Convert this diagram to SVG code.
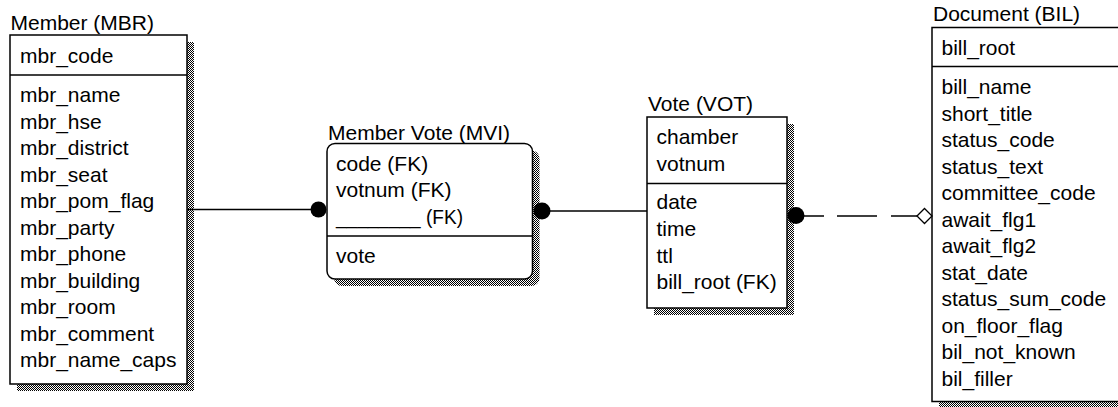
<svg xmlns="http://www.w3.org/2000/svg" width="1118" height="407" viewBox="0 0 1118 407">
<style>
text{font-family:"Liberation Sans",Arial,sans-serif;font-size:21px;fill:#000}
.box{fill:#fff;stroke:#000;stroke-width:1.5}
.sep{stroke:#000;stroke-width:1.5;fill:none}
.shadow{fill:url(#dither)}
.conn{stroke:#000;stroke-width:1.5;fill:none}
.dot{fill:#000;stroke:none}
.dia{fill:#fff;stroke:#000;stroke-width:1.3}
</style>
<defs>
<pattern id="dither" width="2" height="2" patternUnits="userSpaceOnUse">
<rect width="2" height="2" fill="#fff"/>
<rect width="1" height="1" fill="#000"/>
<rect x="1" y="1" width="1" height="1" fill="#000"/>
</pattern>
</defs>
<rect width="1118" height="407" fill="#fff"/>

<g id="member">
<text x="10.5" y="30">Member (MBR)</text>
<rect class="shadow" x="17" y="42" width="177" height="349"/>
<rect class="box" x="10" y="35" width="177" height="349"/>
<line class="sep" x1="10" y1="75" x2="187" y2="75"/>
<text x="20" y="63">mbr_code</text>
<text x="20" y="102">mbr_name</text>
<text x="20" y="128.5">mbr_hse</text>
<text x="20" y="155">mbr_district</text>
<text x="20" y="181.5">mbr_seat</text>
<text x="20" y="208">mbr_pom_flag</text>
<text x="20" y="234.5">mbr_party</text>
<text x="20" y="261">mbr_phone</text>
<text x="20" y="287.5">mbr_building</text>
<text x="20" y="314">mbr_room</text>
<text x="20" y="340.5">mbr_comment</text>
<text x="20" y="367">mbr_name_caps</text>
</g>

<g id="member-vote">
<text x="328" y="139.5">Member Vote (MVI)</text>
<rect class="shadow" x="334" y="150.5" width="205.5" height="135.5" rx="8"/>
<rect class="box" x="327" y="143.5" width="205.5" height="135.5" rx="8"/>
<line class="sep" x1="327" y1="236" x2="532.5" y2="236"/>
<text x="336" y="170.5">code (FK)</text>
<text x="336" y="197">votnum (FK)</text>
<text x="336" y="223.5" textLength="127" lengthAdjust="spacingAndGlyphs">________ (FK)</text>
<text x="336" y="263">vote</text>
</g>

<g id="vote">
<text x="648" y="110.5">Vote (VOT)</text>
<rect class="shadow" x="654" y="124" width="140" height="191"/>
<rect class="box" x="647" y="117" width="140" height="191"/>
<line class="sep" x1="647" y1="183.5" x2="787" y2="183.5"/>
<text x="656.5" y="144">chamber</text>
<text x="656.5" y="170.5">votnum</text>
<text x="656.5" y="209">date</text>
<text x="656.5" y="236">time</text>
<text x="656.5" y="262.5">ttl</text>
<text x="656.5" y="289">bill_root (FK)</text>
</g>

<g id="document">
<text x="933" y="21">Document (BIL)</text>
<rect class="shadow" x="939" y="34.5" width="200" height="374"/>
<rect class="box" x="932" y="27.5" width="200" height="374"/>
<line class="sep" x1="932" y1="66.5" x2="1132" y2="66.5"/>
<text x="941.5" y="55">bill_root</text>
<text x="941.5" y="94">bill_name</text>
<text x="941.5" y="120.5">short_title</text>
<text x="941.5" y="147">status_code</text>
<text x="941.5" y="173.5">status_text</text>
<text x="941.5" y="200">committee_code</text>
<text x="941.5" y="226.5">await_flg1</text>
<text x="941.5" y="253">await_flg2</text>
<text x="941.5" y="279.5">stat_date</text>
<text x="941.5" y="306">status_sum_code</text>
<text x="941.5" y="332.5">on_floor_flag</text>
<text x="941.5" y="359">bil_not_known</text>
<text x="941.5" y="385.5">bil_filler</text>
</g>

<g id="connectors">
<path class="conn" d="M187,209.5 H312"/>
<circle class="dot" cx="318.5" cy="209.5" r="8"/>
<path class="conn" d="M542,211 H647"/>
<circle class="dot" cx="542" cy="211" r="8.5"/>
<path class="conn" d="M796,216 H824 M837,216 H877 M891,216 H917"/>
<circle class="dot" cx="796" cy="215.5" r="8.5"/>
<polygon class="dia" points="917,216 924.5,208.5 932,216 924.5,223.5"/>
</g>
</svg>
